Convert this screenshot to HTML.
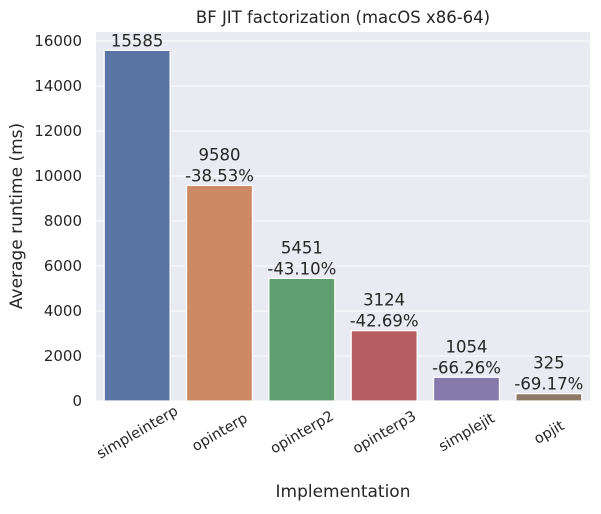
<!DOCTYPE html>
<html><head><meta charset="utf-8"><style>
body{margin:0;background:#fff}
svg text{font-family:"DejaVu Sans","Liberation Sans",sans-serif;fill:#262626}
</style></head><body>
<svg width="601" height="509" xmlns="http://www.w3.org/2000/svg">
<rect x="96" y="32" width="494" height="369" fill="#eaeaf2"/>
<g id="grid"></g><g id="bars"></g><g id="labels"></g><g id="yt"></g><g id="xt"></g>
<text x="343" y="23" text-anchor="middle" font-size="16.5">BF JIT factorization (macOS x86-64)</text>
<text x="343" y="497" text-anchor="middle" font-size="17">Implementation</text>
<text transform="translate(22,216) rotate(-90)" text-anchor="middle" font-size="17">Average runtime (ms)</text>
</svg>
<script>
const categories=["simpleinterp","opinterp","opinterp2","opinterp3","simplejit","opjit"];
const values=[15585,9580,5451,3124,1054,325];
const pctLabels=["","-38.53%","-43.10%","-42.69%","-66.26%","-69.17%"];
const yTicks=[0,2000,4000,6000,8000,10000,12000,14000,16000];
const colors=["#5875a4","#cc8963","#5f9e6e","#b55d60","#857aab","#8d7866"];
const L=96,R=590,T=32,B=401,YMAX=16400;
const y=v=>B-(v/YMAX)*(B-T);
const band=(R-L)/categories.length;
const xc=i=>L+band*(i+0.5);
const NS="http://www.w3.org/2000/svg";
function mk(tag,attrs,parent,txt){const e=document.createElementNS(NS,tag);for(const k in attrs)e.setAttribute(k,attrs[k]);if(txt!==undefined)e.textContent=txt;document.getElementById(parent).appendChild(e);return e;}
yTicks.forEach(t=>{
  const g=mk("line",{x1:L,x2:R,y1:y(t),y2:y(t),stroke:"#fff","stroke-width":1},"grid");
  
  
  const tx=mk("text",{x:L-14,y:y(t)+5,"text-anchor":"end","font-size":"15"},"yt",String(t));
  
  
});
categories.forEach((c,i)=>{
  const bw=band*0.8,x0=xc(i)-bw/2;
  const r=mk("rect",{x:x0,y:y(values[i]),width:bw,height:B-y(values[i]),fill:colors[i],stroke:"#fff","stroke-width":1.2},"bars");
  
  
  const top=y(values[i]);
  if(pctLabels[i]){
    const a=mk("text",{x:xc(i),y:top-25,"text-anchor":"middle","font-size":"16.5"},"labels",String(values[i]));
    
    
    const b=mk("text",{x:xc(i),y:top-4,"text-anchor":"middle","font-size":"16.5"},"labels",pctLabels[i]);
    
    
  } else {
    const a=mk("text",{x:xc(i),y:top-4,"text-anchor":"middle","font-size":"16.5"},"labels",String(values[i]));
    
    
  }
  const xt=mk("text",{transform:`translate(${xc(i)},${B+31}) rotate(-30)`,"text-anchor":"middle","font-size":"14.5",dy:"5"},"xt",c);
  
  
});
</script>
</body></html>
